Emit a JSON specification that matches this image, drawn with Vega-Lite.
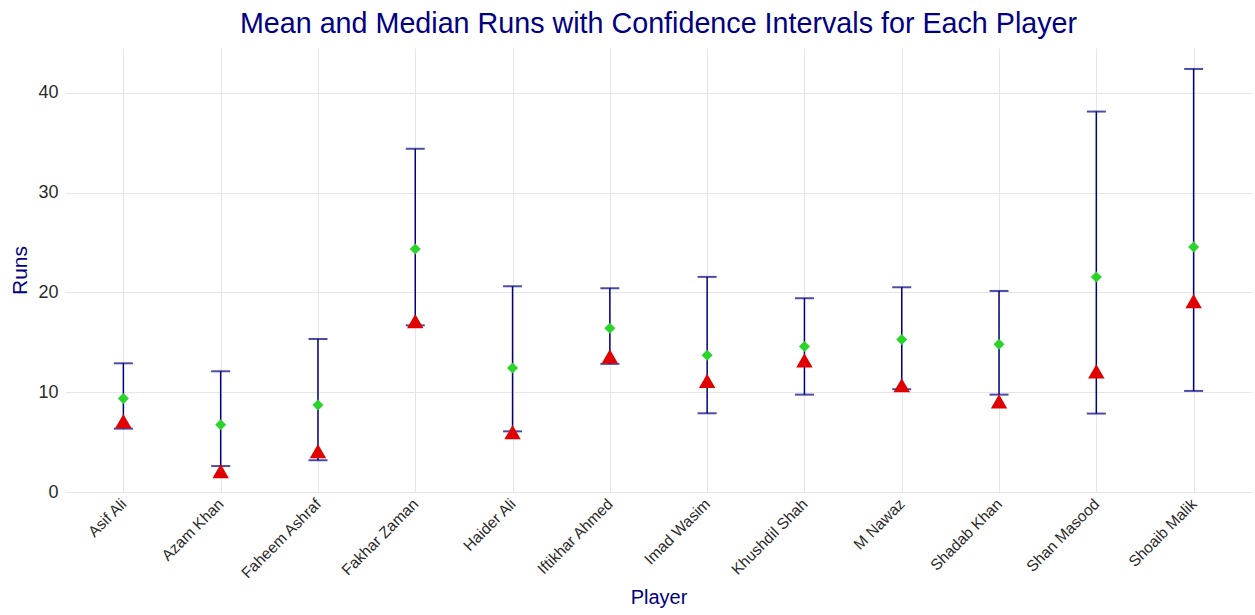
{
  "$schema": "https://vega.github.io/schema/vega-lite/v6.json",
  "autosize": "none",
  "width": 1187,
  "height": 444,
  "padding": {"left": 65, "top": 48, "right": 3, "bottom": 123},
  "background": "white",
  "config": {
    "font": "Liberation Sans",
    "view": {"stroke": null}
  },
  "title": {
    "text": "Mean and Median Runs with Confidence Intervals for Each Player",
    "anchor": "middle",
    "frame": "group",
    "fontSize": 28.7,
    "fontWeight": "normal",
    "color": "#000080",
    "offset": 9
  },
  "data": {
    "values": [
      {"Player": "Asif Ali", "mean": 9.36, "median": 7.1, "lower": 6.35, "upper": 12.9},
      {"Player": "Azam Khan", "mean": 6.75, "median": 2.1, "lower": 2.6, "upper": 12.1},
      {"Player": "Faheem Ashraf", "mean": 8.73, "median": 4.1, "lower": 3.18, "upper": 15.34},
      {"Player": "Fakhar Zaman", "mean": 24.36, "median": 17.12, "lower": 16.7, "upper": 34.4},
      {"Player": "Haider Ali", "mean": 12.43, "median": 6.0, "lower": 6.08, "upper": 20.62},
      {"Player": "Iftikhar Ahmed", "mean": 16.41, "median": 13.6, "lower": 12.84, "upper": 20.42},
      {"Player": "Imad Wasim", "mean": 13.7, "median": 11.13, "lower": 7.89, "upper": 21.56},
      {"Player": "Khushdil Shah", "mean": 14.58, "median": 13.2, "lower": 9.76, "upper": 19.42},
      {"Player": "M Nawaz", "mean": 15.28, "median": 10.7, "lower": 10.3, "upper": 20.52},
      {"Player": "Shadab Khan", "mean": 14.8, "median": 9.09, "lower": 9.76, "upper": 20.15},
      {"Player": "Shan Masood", "mean": 21.56, "median": 12.1, "lower": 7.86, "upper": 38.13},
      {"Player": "Shoaib Malik", "mean": 24.56, "median": 19.12, "lower": 10.13, "upper": 42.4}
    ]
  },
  "encoding": {
    "x": {
      "field": "Player",
      "type": "nominal",
      "sort": null,
      "scale": {"type": "point", "padding": 0.6},
      "axis": {
        "title": "Player",
        "titleFontSize": 20,
        "titleFontWeight": "normal",
        "titleColor": "#000080",
        "titlePadding": 6,
        "labelAngle": -45,
        "labelAlign": "right",
        "labelBaseline": "middle",
        "labelFontSize": 15.5,
        "labelColor": "#2a2a2a",
        "labelPadding": 9,
        "grid": true,
        "gridColor": "#e6e6e6",
        "gridWidth": 1,
        "domain": false,
        "ticks": false
      }
    }
  },
  "layer": [
    {
      "mark": {"type": "rule", "color": "#000080", "strokeWidth": 1.5},
      "encoding": {
        "y": {
          "field": "lower",
          "type": "quantitative",
          "scale": {"domain": [0, 44.5], "nice": false, "zero": false},
          "axis": {
            "title": "Runs",
            "titleFontSize": 21,
            "titleFontWeight": "normal",
            "titleColor": "#000080",
            "titlePadding": 7,
            "values": [0, 10, 20, 30, 40],
            "labelFontSize": 18,
            "labelColor": "#2a2a2a",
            "labelPadding": 7,
            "grid": true,
            "gridColor": "#e6e6e6",
            "gridWidth": 1,
            "domain": false,
            "ticks": false
          }
        },
        "y2": {"field": "upper"}
      }
    },
    {
      "mark": {"type": "tick", "color": "#000080", "thickness": 2, "size": 19, "orient": "horizontal"},
      "encoding": {"y": {"field": "lower", "type": "quantitative"}}
    },
    {
      "mark": {"type": "tick", "color": "#000080", "thickness": 2, "size": 19, "orient": "horizontal"},
      "encoding": {"y": {"field": "upper", "type": "quantitative"}}
    },
    {
      "mark": {"type": "point", "shape": "diamond", "filled": true, "size": 121, "color": "#2ad42a", "opacity": 1},
      "encoding": {"y": {"field": "mean", "type": "quantitative"}}
    },
    {
      "mark": {"type": "point", "shape": "triangle-up", "filled": true, "size": 270, "color": "#e00000", "opacity": 1},
      "encoding": {"y": {"field": "median", "type": "quantitative"}}
    }
  ]
}
